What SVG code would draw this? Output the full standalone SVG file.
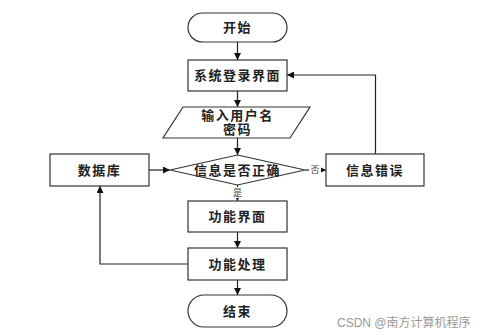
<svg xmlns="http://www.w3.org/2000/svg" width="499" height="335" viewBox="0 0 499 335">
<style>
.s{fill:#fff;stroke:#333;stroke-width:1.2}
.t{font-family:"Liberation Serif","Noto Sans CJK SC",serif;font-size:13px;font-weight:bold;fill:#222;text-anchor:middle;letter-spacing:1.5px}
.c{fill:none;stroke:#222;stroke-width:1.2}
.l{font-family:"Liberation Serif","Noto Sans CJK SC",serif;font-size:9px;fill:#444;text-anchor:middle}
.w{font-family:"Liberation Sans","Noto Sans CJK SC",sans-serif;font-size:12px;fill:#999}
</style>
<defs>
<marker id="a" viewBox="0 0 10 10" refX="10" refY="5" markerWidth="7" markerHeight="7" markerUnits="userSpaceOnUse" orient="auto">
<path d="M0,0L10,5L0,10z" fill="#111"/>
</marker>
</defs>
<rect width="499" height="335" fill="#fff"/>
<g id="connectors">
<line class="c" x1="237.5" y1="42" x2="237.5" y2="60" marker-end="url(#a)"/>
<line class="c" x1="237.5" y1="91" x2="237.5" y2="107" marker-end="url(#a)"/>
<line class="c" x1="237.5" y1="138" x2="237.5" y2="155" marker-end="url(#a)"/>
<line class="c" x1="149" y1="170" x2="170" y2="170" marker-end="url(#a)"/>
<line class="c" x1="305" y1="170" x2="326" y2="170" marker-end="url(#a)"/>
<polyline class="c" points="375.5,154 375.5,75 287,75" marker-end="url(#a)"/>
<line class="c" x1="237.5" y1="185" x2="237.5" y2="201" marker-end="url(#a)"/>
<line class="c" x1="237.5" y1="232" x2="237.5" y2="248" marker-end="url(#a)"/>
<line class="c" x1="237.5" y1="280" x2="237.5" y2="295" marker-end="url(#a)"/>
<polyline class="c" points="188,264 100,264 100,186" marker-end="url(#a)"/>
<rect x="309" y="164" width="12" height="11" fill="#fff"/>
<text class="l" x="315" y="173">否</text>
<rect x="232" y="187" width="11" height="11" fill="#fff"/>
<text class="l" x="237.5" y="196">是</text>
</g>
<g id="start">
<rect class="s" x="188" y="13" width="99" height="29" rx="14.5"/>
<text class="t" x="237.5" y="32">开始</text>
</g>
<g id="login">
<rect class="s" x="188" y="60" width="99" height="31"/>
<text class="t" x="237.5" y="80">系统登录界面</text>
</g>
<g id="input">
<polygon class="s" points="183,107 310,107 290,138 163,138"/>
<text class="t" x="237.5" y="120">输入用户名</text>
<text class="t" x="237.5" y="134">密码</text>
</g>
<g id="check">
<polygon class="s" points="237.5,155 305,170 237.5,185 170,170"/>
<text class="t" x="237.5" y="175">信息是否正确</text>
</g>
<g id="db">
<rect class="s" x="50" y="154" width="99" height="32"/>
<text class="t" x="99.5" y="175">数据库</text>
</g>
<g id="error">
<rect class="s" x="326" y="154" width="98" height="32"/>
<text class="t" x="375" y="175">信息错误</text>
</g>
<g id="func">
<rect class="s" x="188" y="201" width="99" height="31"/>
<text class="t" x="237.5" y="221">功能界面</text>
</g>
<g id="proc">
<rect class="s" x="188" y="248" width="99" height="32"/>
<text class="t" x="237.5" y="269">功能处理</text>
</g>
<g id="end">
<rect class="s" x="188" y="295" width="99" height="32" rx="16"/>
<text class="t" x="237.5" y="316">结束</text>
</g>
<text class="w" x="337" y="327">CSDN @南方计算机程序</text>
</svg>
